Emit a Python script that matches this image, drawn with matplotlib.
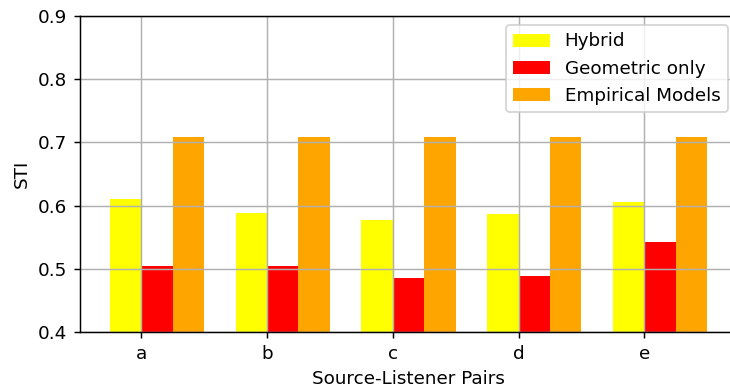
import matplotlib
matplotlib.use("Agg")
import matplotlib.pyplot as plt
import numpy as np

pairs = ["a", "b", "c", "d", "e"]
hybrid = [0.611, 0.589, 0.578, 0.586, 0.606]
geometric = [0.505, 0.505, 0.486, 0.4885, 0.542]
empirical = [0.708, 0.708, 0.708, 0.708, 0.708]

DPI = 132
fig = plt.figure(figsize=(730 / DPI, 390 / DPI), dpi=DPI)
ax = fig.add_axes([80/730, 58/390, (737-80)/730, (332-16)/390])

x = np.arange(len(pairs))
w = 0.25
ax.bar(x - w, hybrid, w, align='edge', color='yellow', label='Hybrid')
ax.bar(x, geometric, w, align='edge', color='red', label='Geometric only')
ax.bar(x + w, empirical, w, align='edge', color='orange', label='Empirical Models')

ax.set_ylim(0.4, 0.9)
ax.set_xticks(x)
ax.set_xticklabels(pairs)
ax.grid(True)
ax.set_xlabel('Source-Listener Pairs')
ax.set_ylabel('STI')
ax.legend(loc='upper right')

fig.savefig('out.png', dpi=DPI)
